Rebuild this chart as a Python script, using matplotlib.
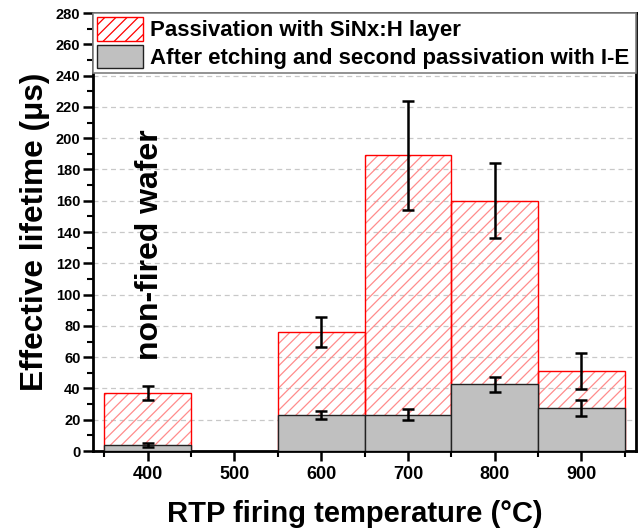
import matplotlib
matplotlib.use("Agg")
import matplotlib.pyplot as plt
import numpy as np
from matplotlib.ticker import MultipleLocator
from matplotlib.patches import Patch

# --- data ---
temps = [400, 600, 700, 800, 900]
tick_temps = [400, 500, 600, 700, 800, 900]
sinx = [37, 76, 189, 160, 51]
sinx_err = [4.6, 9.4, 35, 24, 11.6]
ie = [4, 22.8, 23.2, 42.6, 27.7]
ie_err = [1.4, 2.6, 3.5, 4.7, 5.1]
labels = ["Passivation with SiNx:H layer",
          "After etching and second passivation with I-E"]

plt.rcParams["font.family"] = ["Liberation Sans", "DejaVu Sans"]
plt.rcParams["font.weight"] = "bold"
plt.rcParams["hatch.linewidth"] = 0.9

fig = plt.figure(figsize=(6.4, 5.29), dpi=100)
ax = fig.add_axes([0.1453, 0.1474, 0.8485, 0.828])

# red hatched bars (first passivation): light hatch + solid red outline
ax.bar(temps, sinx, width=100, color="none", edgecolor="#ff8c8c", hatch="///",
       linewidth=0, zorder=2)
ax.bar(temps, sinx, width=100, color="none", edgecolor="red", linewidth=1.0, zorder=2)
ax.errorbar(temps, sinx, yerr=sinx_err, fmt="none", ecolor="black",
            elinewidth=1.8, capsize=4, capthick=1.8, zorder=4)

# grey bars (after etching / I-E passivation)
ax.bar(temps, ie, width=100, color="#c0c0c0", edgecolor="#222222",
       linewidth=1.0, zorder=3)
ax.errorbar(temps, ie, yerr=ie_err, fmt="none", ecolor="black",
            elinewidth=1.8, capsize=4, capthick=1.8, zorder=4)

ax.text(403, 132, "non-fired wafer", rotation=90, ha="center", va="center",
        fontsize=23, fontweight="bold")

ax.set_xlim(337, 963)
ax.set_ylim(0, 280)
ax.set_xticks(tick_temps)
ax.set_xticks(np.arange(350, 1000, 100), minor=True)
ax.yaxis.set_major_locator(MultipleLocator(20))
ax.yaxis.set_minor_locator(MultipleLocator(10))

ax.grid(axis="y", which="major", linestyle=(0, (4, 3)), color="#c8c8c8",
        linewidth=0.9, zorder=0)
ax.set_axisbelow(True)

for sp in ax.spines.values():
    sp.set_linewidth(2)
ax.tick_params(axis="both", which="major", direction="out", width=1.8, length=7)
ax.tick_params(axis="both", which="minor", direction="out", width=1.5, length=4)
ax.tick_params(axis="x", labelsize=13, pad=4)
ax.tick_params(axis="y", labelsize=10.5, pad=2)
for lab in ax.get_xticklabels() + ax.get_yticklabels():
    lab.set_fontweight("bold")

ax.set_xlabel("RTP firing temperature (°C)", fontsize=21, fontweight="bold")
ax.set_ylabel("Effective lifetime (μs)", fontsize=22.8, fontweight="bold")
ax.xaxis.set_label_coords(0.4825, -0.112)
ax.yaxis.set_label_coords(-0.08, 0.5)

# legend handles built from the same styles
h1 = Patch(facecolor="none", edgecolor="red", hatch="///", linewidth=1.0)
h2 = Patch(facecolor="#c0c0c0", edgecolor="#222222", linewidth=1.0)
leg = ax.legend([h1, h2], labels,
                loc="upper left", bbox_to_anchor=(0, 0, 1, 1), mode="expand",
                borderaxespad=0, fontsize=16, handlelength=2.05, handleheight=1.22,
                handletextpad=0.33, labelspacing=0.15, borderpad=0.2,
                fancybox=False, framealpha=1)
leg.get_frame().set_edgecolor("#808080")
leg.get_frame().set_linewidth(1.2)
leg.set_zorder(5)
for t in leg.get_texts():
    t.set_fontweight("bold")

fig.savefig("out.png", dpi=100)
